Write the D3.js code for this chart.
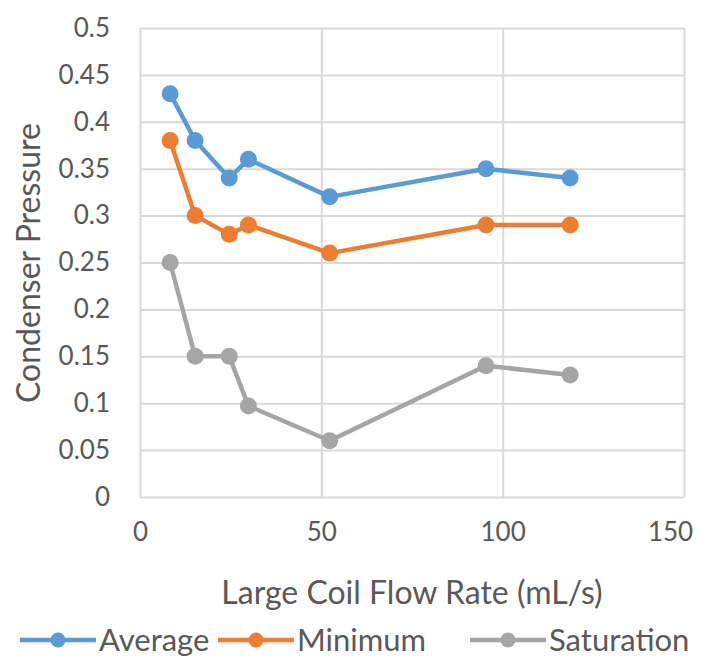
<!DOCTYPE html>
<html>
<head>
<meta charset="utf-8">
<script src="https://cdn.jsdelivr.net/npm/d3@7"></script>
<style>
  body { margin: 0; background: #fff; }
  text { font-family: Lato, "Open Sans", sans-serif; fill: #595959; }
</style>
</head>
<body>
<div id="chart"></div>
<script>
// flow rate (mL/s)
const flowRates = [8.3, 15.2, 24.6, 29.9, 52.3, 95.4, 118.6];
const average = [0.43, 0.38, 0.34, 0.36, 0.32, 0.35, 0.34];
const minimum = [0.38, 0.30, 0.28, 0.29, 0.26, 0.29, 0.29];
const saturation = [0.25, 0.15, 0.15, 0.097, 0.06, 0.14, 0.13];
const seriesNames = ["Average", "Minimum", "Saturation"];
const xTicks = [0, 50, 100, 150];
const yTicks = [0, 0.05, 0.1, 0.15, 0.2, 0.25, 0.3, 0.35, 0.4, 0.45, 0.5];

const width = 710, height = 661;
const margin = { left: 140, right: 26, top: 28, bottom: 164 };
const colors = ["#5b9bd5", "#ed7d31", "#a5a5a5"];

const svg = d3.select("#chart").append("svg")
  .attr("width", width)
  .attr("height", height);

const x = d3.scaleLinear().domain([0, 150]).range([margin.left, width - margin.right]);
const y = d3.scaleLinear().domain([0, 0.5]).range([height - margin.bottom, margin.top]);

// grid + tick labels
svg.append("g")
  .attr("transform", "translate(0," + (height - margin.bottom) + ")")
  .call(d3.axisBottom(x).tickValues(xTicks).tickSize(-(height - margin.top - margin.bottom)).tickFormat(d3.format("d")).tickPadding(26))
  .call(g => g.select(".domain").remove())
  .call(g => g.selectAll("line").attr("stroke", "#d9d9d9").attr("stroke-width", 2))
  .call(g => g.selectAll("text").style("font-size", "26px").attr("fill", "#595959")
    .attr("dx", (d, i) => i === xTicks.length - 1 ? -14 : 0));

svg.append("g")
  .attr("transform", "translate(" + margin.left + ",0)")
  .call(d3.axisLeft(y).tickValues(yTicks).tickSize(-(width - margin.left - margin.right)).tickFormat(d => d3.format("")(+d.toFixed(2))).tickPadding(30))
  .call(g => g.select(".domain").remove())
  .call(g => g.selectAll("line").attr("stroke", "#d9d9d9").attr("stroke-width", 2))
  .call(g => g.selectAll("text").style("font-size", "26px").attr("fill", "#595959"));

const seriesData = [average, minimum, saturation];

const line = d3.line()
  .x((d, i) => x(flowRates[i]))
  .y(d => y(d));

seriesData.forEach((vals, k) => {
  svg.append("path")
    .datum(vals)
    .attr("d", line)
    .attr("fill", "none")
    .attr("stroke", colors[k])
    .attr("stroke-width", 4.5)
    .attr("stroke-linejoin", "round");

  svg.append("g").selectAll("circle")
    .data(vals)
    .enter()
    .append("circle")
    .attr("cx", (d, i) => x(flowRates[i]))
    .attr("cy", d => y(d))
    .attr("r", 8.5)
    .attr("fill", colors[k]);
});

// axis titles
svg.append("text")
  .attr("x", 412)
  .attr("y", 604)
  .attr("text-anchor", "middle")
  .style("font-size", "32px")
  .text("Large Coil Flow Rate (mL/s)");

svg.append("text")
  .attr("transform", "translate(40,263) rotate(-90)")
  .attr("text-anchor", "middle")
  .style("font-size", "32px")
  .text("Condenser Pressure");

// legend
const legendX = [20, 218, 470];
const legend = svg.append("g");
seriesNames.forEach((name, k) => {
  const g = legend.append("g").attr("transform", "translate(" + legendX[k] + ",640)");
  g.append("line").attr("x1", 0).attr("x2", 76).attr("stroke", colors[k]).attr("stroke-width", 4.5);
  g.append("circle").attr("cx", 38).attr("r", 7.5).attr("fill", colors[k]);
  g.append("text").attr("x", 79).attr("dy", "0.35em").style("font-size", "31px").text(name);
});
</script>
</body>
</html>
